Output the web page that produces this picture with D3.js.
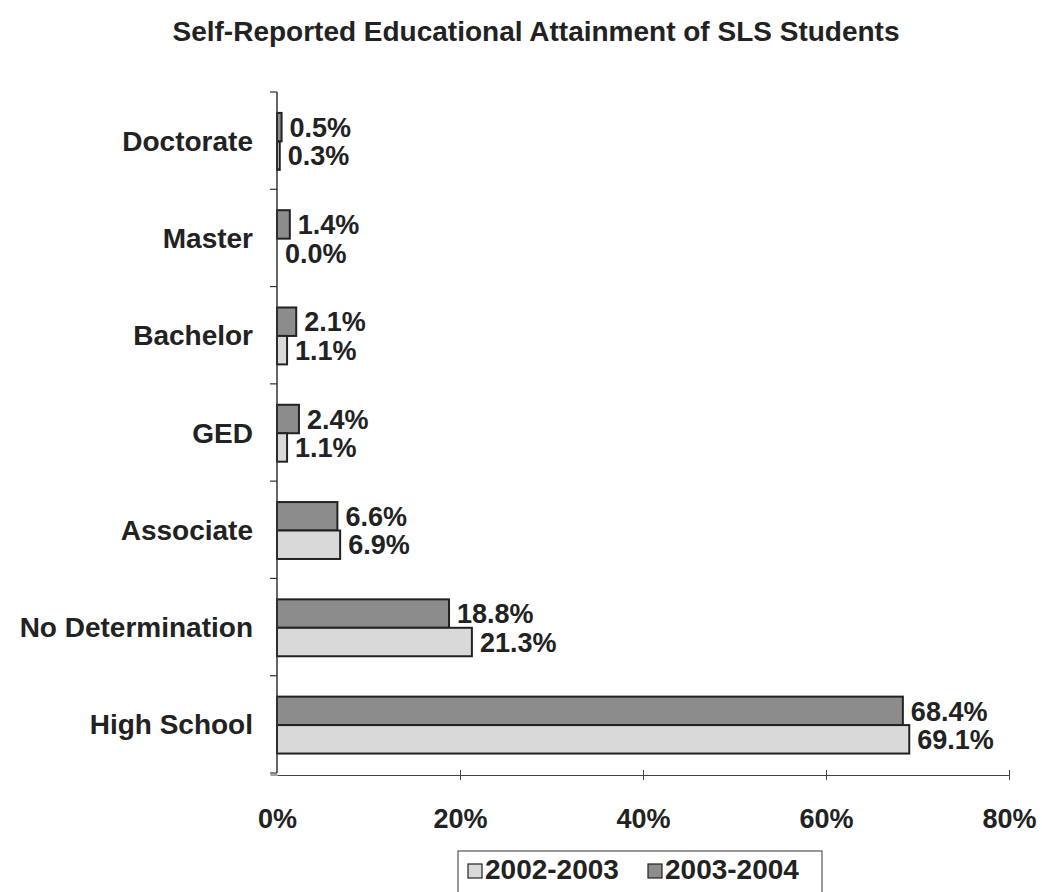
<!DOCTYPE html>
<html>
<head>
<meta charset="utf-8">
<script src="https://cdn.jsdelivr.net/npm/d3@7"></script>
<style>
  body { margin: 0; background: #fff; }
  svg { font-family: "Liberation Sans", Arial, sans-serif; font-weight: bold; }
</style>
</head>
<body>
<svg id="chart" width="1042" height="892"></svg>
<script>
// data
const categories = ['Doctorate', 'Master', 'Bachelor', 'GED', 'Associate', 'No Determination', 'High School'];
const series = ['2003-2004', '2002-2003'];   // top bar, bottom bar in each group
const values0304 = [0.5, 1.4, 2.1, 2.4, 6.6, 18.8, 68.4];
const values0203 = [0.3, 0.0, 1.1, 1.1, 6.9, 21.3, 69.1];
const xTicks = [0, 20, 40, 60, 80];
const legendOrder = ['2002-2003', '2003-2004'];

const colors = { '2002-2003': '#d9d9d9', '2003-2004': '#8c8c8c' };

const svg = d3.select('#chart');
const margin = { top: 92, left: 277, right: 33, bottom: 119 };
const width = 1042, height = 892;

const x = d3.scaleLinear()
    .domain([0, 80])
    .range([margin.left, width - margin.right]);

const y = d3.scaleBand()
    .domain(categories)
    .range([margin.top, height - margin.bottom]);

const yInner = d3.scaleBand()
    .domain(series)
    .range([y.bandwidth() * 0.215, y.bandwidth() * 0.8]);

// title
svg.append('text')
    .attr('x', 536)
    .attr('y', 41)
    .attr('text-anchor', 'middle')
    .style('font-size', '28px')
    .attr('fill', '#222')
    .text('Self-Reported Educational Attainment of SLS Students');

const rows = categories.map((c, i) => ({
    cat: c,
    vals: [
        { s: '2003-2004', v: values0304[i] },
        { s: '2002-2003', v: values0203[i] }
    ]
}));

const g = svg.append('g')
    .selectAll('g')
    .data(rows)
    .enter().append('g')
    .attr('transform', d => `translate(0,${y(d.cat)})`);

g.selectAll('rect')
    .data(d => d.vals)
    .enter().append('rect')
    .attr('x', x(0))
    .attr('y', d => yInner(d.s))
    .attr('width', d => x(d.v) - x(0))
    .attr('height', yInner.bandwidth())
    .attr('fill', d => colors[d.s])
    .attr('stroke', '#222')
    .attr('stroke-width', 2);

g.selectAll('text.val')
    .data(d => d.vals)
    .enter().append('text')
    .attr('class', 'val')
    .attr('x', d => x(d.v) + 8)
    .attr('y', d => yInner(d.s) + yInner.bandwidth() / 2)
    .attr('dy', '0.36em')
    .style('font-size', '27px')
    .attr('fill', '#222')
    .text(d => d.v.toFixed(1) + '%');

// y axis
const yAxis = svg.append('g')
    .attr('transform', `translate(${margin.left},0)`);
yAxis.append('line')
    .attr('x1', 0).attr('x2', 0)
    .attr('y1', margin.top).attr('y2', height - margin.bottom)
    .attr('stroke', '#333').attr('stroke-width', 1.5);
yAxis.selectAll('line.tick')
    .data(categories.concat(['_end']))
    .enter().append('line')
    .attr('class', 'tick')
    .attr('x1', -7).attr('x2', 0)
    .attr('y1', (d, i) => margin.top + i * y.step())
    .attr('y2', (d, i) => margin.top + i * y.step())
    .attr('stroke', '#333').attr('stroke-width', 1.2);
yAxis.selectAll('text')
    .data(categories)
    .enter().append('text')
    .attr('x', -24)
    .attr('y', d => y(d) + y.bandwidth() / 2)
    .attr('dy', '0.36em')
    .attr('text-anchor', 'end')
    .style('font-size', '28px')
    .attr('fill', '#222')
    .text(d => d);

// x axis
const xAxis = svg.append('g')
    .attr('transform', `translate(0,${height - margin.bottom + 2})`)
    .call(d3.axisBottom(x).tickValues(xTicks).tickSize(6).tickSizeOuter(0).tickFormat(d => d + '%'));
xAxis.select('.domain').attr('stroke', '#444').attr('stroke-width', 1.2);
xAxis.selectAll('.tick line').attr('stroke', '#444').attr('y1', -5).attr('y2', 5);
xAxis.selectAll('.tick text')
    .attr('y', 53)
    .attr('dy', 0)
    .style('font-size', '27px')
    .style('font-family', '"Liberation Sans", Arial, sans-serif')
    .style('font-weight', 'bold')
    .attr('fill', '#222');
xAxis.selectAll('.tick line').filter(d => d === 0).attr('x1', -7).attr('y1', 0).attr('y2', 0);

// legend
const legend = svg.append('g').attr('transform', 'translate(458,851)');
legend.append('rect')
    .attr('width', 364).attr('height', 48)
    .attr('fill', '#fff').attr('stroke', '#555').attr('stroke-width', 1.2);
const li = legend.selectAll('g')
    .data(legendOrder)
    .enter().append('g')
    .attr('transform', (d, i) => `translate(${10 + i * 180},0)`);
li.append('rect')
    .attr('y', 13).attr('width', 14).attr('height', 14)
    .attr('fill', d => colors[d]).attr('stroke', '#222').attr('stroke-width', 1.2);
li.append('text')
    .attr('x', 17).attr('y', 28)
    .style('font-size', '28px')
    .attr('fill', '#222')
    .text(d => d);
</script>
</body>
</html>
